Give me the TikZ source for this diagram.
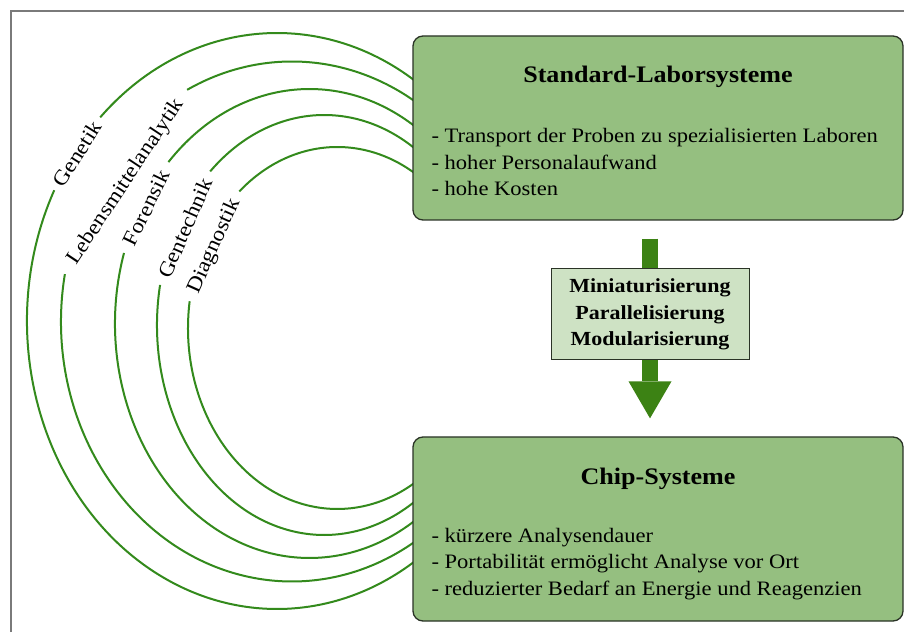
\documentclass[tikz,border=0pt]{standalone}
\usepackage{fontspec}
\setmainfont{Liberation Serif}[FakeStretch=1.1]
\usetikzlibrary{arrows.meta,positioning,calc}
\definecolor{LaborGreen}{HTML}{95BF80}
\definecolor{TrendGreen}{HTML}{CEE2C4}
\definecolor{ArcGreen}{HTML}{338A1C}
\definecolor{ArrowGreen}{HTML}{3C8214}
\definecolor{BoxLine}{HTML}{2A3326}
\definecolor{FrameGray}{HTML}{7A7A7A}

\tikzset{
  sysbox/.style={draw=BoxLine,fill=LaborGreen,line width=1.3pt,rounded corners=10pt,
    minimum width=490pt,minimum height=184pt},
  trendbox/.style={draw=BoxLine,fill=TrendGreen,line width=1pt,minimum width=198pt,
    minimum height=91pt,align=center,font=\fontsize{20}{26.5}\selectfont\bfseries},
  headtext/.style={font=\fontsize{23.7}{28}\selectfont\bfseries,inner sep=0pt},
  listtext/.style={font=\fontsize{20.5}{26.5}\selectfont,align=left,inner sep=0pt},
  arcline/.style={draw=ArcGreen,line width=2pt},
  field/.style={font=\fontsize{21}{24}\selectfont,inner sep=0pt},
  shaft/.style={draw=ArrowGreen,line width=16pt}
}

\begin{document}
\begin{tikzpicture}[x=1pt,y=1pt]
  \useasboundingbox (0,0) rectangle (904,632);
  \fill[white] (0,0) rectangle (904,632);
  \draw[FrameGray,line width=1.5pt] (11,0) -- (11,621) -- (904,621);

  % Anwendungsfelder als Boegen
  \foreach \i/\cx/\cy/\ra/\rb/\ta/\tb/\txt in {
      1/277/311/250/288/135/153/Genetik,
      2/292/310.5/231/260/117/169.5/Lebensmittelanalytik,
      3/309.5/308.5/194.5/234.5/136.5/162.5/Forensik,
      4/324.2/307/167.2/210/133/169/Gentechnik,
      5/337.3/304/149.3/181/131/171.5/Diagnostik}{
    \coordinate (c\i) at (\cx,\cy);
    \draw[arcline] (c\i) ++(50:\ra pt and \rb pt)
      arc[start angle=50,end angle=\ta,x radius=\ra pt,y radius=\rb pt];
    \draw[arcline] (c\i) ++(\tb:\ra pt and \rb pt)
      arc[start angle=\tb,end angle=310,x radius=\ra pt,y radius=\rb pt];
    \path (c\i) ++(\ta:\ra pt and \rb pt) coordinate (ga\i);
    \path (c\i) ++(\tb:\ra pt and \rb pt) coordinate (gb\i);
    \path (gb\i) -- node[field,sloped] (f\i) {\txt} (ga\i);
  }

  % Systeme
  \node[sysbox] (labor) at (658,504) {};
  \node[sysbox] (chip) at (658,103) {};
  \node[headtext,anchor=base] (laborhead) at ([yshift=-47pt]labor.north) {Standard-Laborsysteme};
  \node[listtext,anchor=west] (laborlist) at ([xshift=19pt,yshift=-34pt]labor.west)
    {- Transport der Proben zu spezialisierten Laboren\\- hoher Personalaufwand\\- hohe Kosten};
  \node[headtext,anchor=base] (chiphead) at ([yshift=-48pt]chip.north) {Chip-Systeme};
  \node[listtext,anchor=west] (chiplist) at ([xshift=19pt,yshift=-35pt]chip.west)
    {- k\"urzere Analysendauer\\- Portabilit\"at erm\"oglicht Analyse vor Ort\\- reduzierter Bedarf an Energie und Reagenzien};

  % Uebergang
  \node[trendbox] (trend) at (650,317.5) {Miniaturisierung\\Parallelisierung\\Modularisierung};
  \draw[shaft] ($(labor.south -| trend.north)+(0,-18)$) -- (trend.north);
  \draw[shaft,-{Triangle[width=43pt,length=37pt,line width=0pt]}]
    (trend.south) -- ($(chip.north -| trend.south)+(0,18)$);
\end{tikzpicture}
\end{document}
